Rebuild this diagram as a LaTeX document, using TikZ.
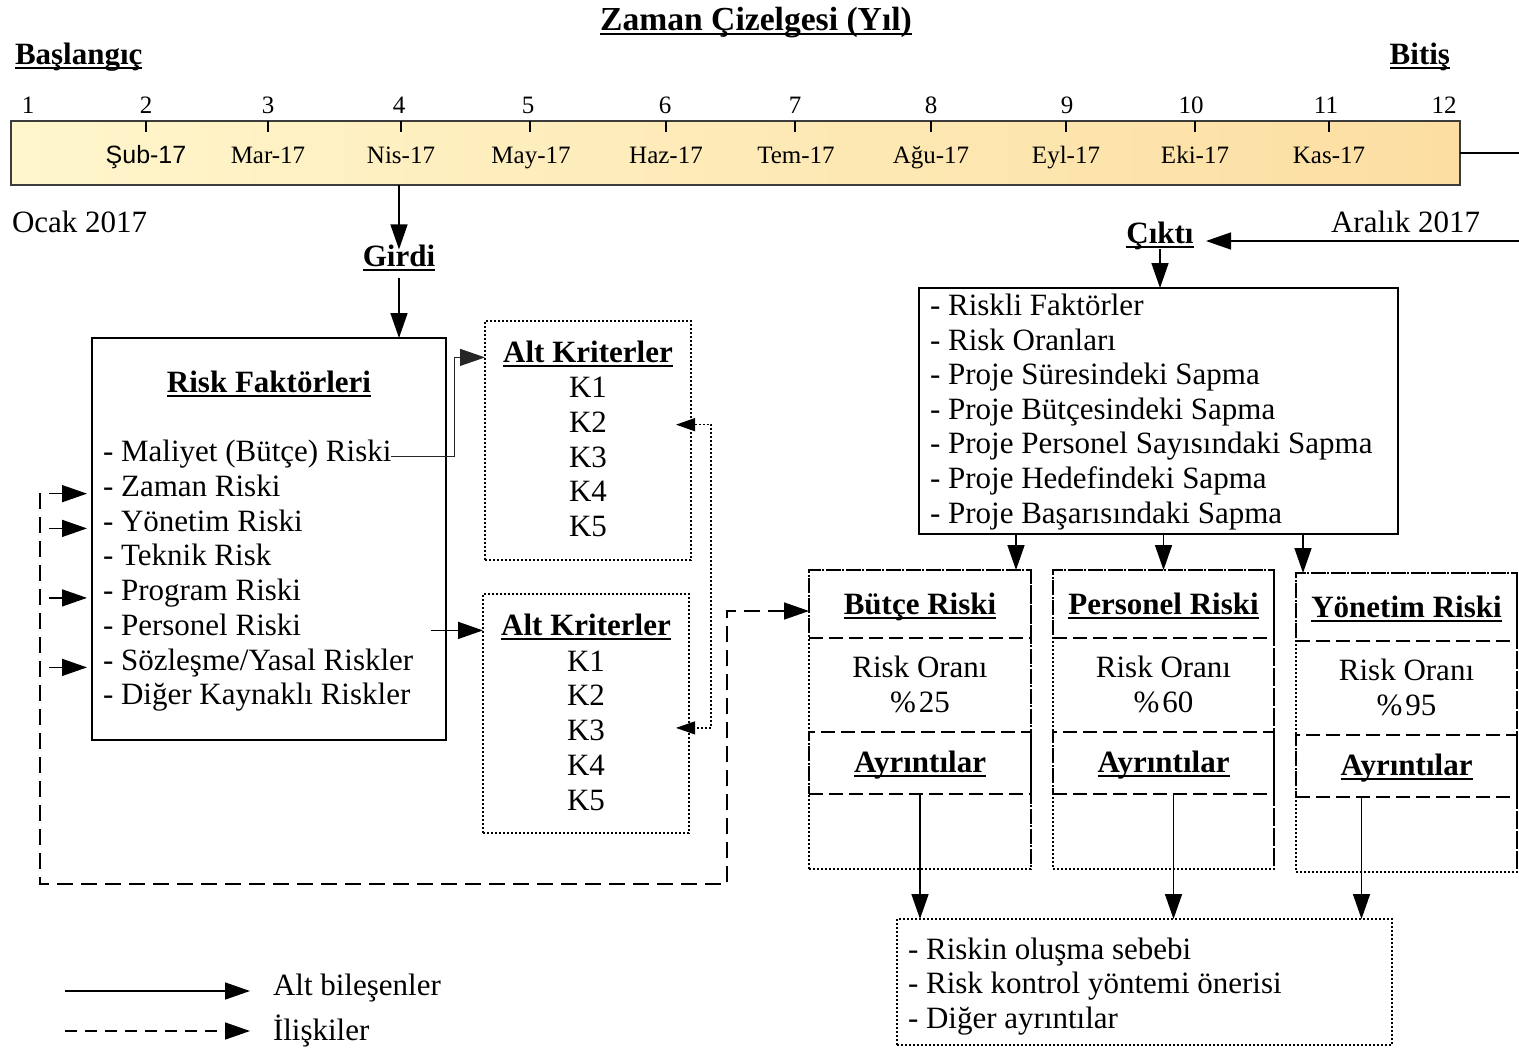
\documentclass[tikz,border=0pt]{standalone}
\usepackage{fontspec}
\setmainfont{Liberation Serif}
\newfontfamily\arialfont{Liberation Sans}
\usetikzlibrary{arrows.meta,fit,calc}

\definecolor{tlA}{RGB}{255,246,204}
\definecolor{tlB}{RGB}{252,222,162}
\definecolor{edge}{RGB}{60,60,60}

% underline at a fixed distance below the baseline
\newcommand\myul[1]{\setbox0\hbox{#1}\rlap{\rule[-2.5pt]{\wd0}{0.9pt}}\box0}

\begin{document}
\begin{tikzpicture}[x=0.5pt,y=-0.5pt,
  every node/.style={inner sep=0pt, outer sep=0pt},
  txt/.style={font=\fontsize{15.5}{17}\selectfont, text height=0.68em, text depth=0.22em},
  ttl/.style={font=\fontsize{15.5}{17}\selectfont\bfseries, text height=0.68em, text depth=0.22em},
  small/.style={font=\fontsize{12.5}{14}\selectfont},
  tip/.style={-{Triangle[length=12.5pt,width=8.5pt]}},
  arr/.style={line width=0.75pt, tip},
  thinline/.style={line width=0.5pt, draw=black!85},
  dotarr/.style={line width=0.6pt, dash pattern=on 1pt off 1pt,
     {Triangle[length=9.5pt,width=6.5pt]}-{Triangle[length=9.5pt,width=6.5pt]}},
  box/.style={draw, line width=0.8pt, fit={#1}},
  dotbox/.style={draw, line width=0.8pt, dash pattern=on 1pt off 1pt, fit={#1}},
  dashbox/.style={draw, line width=0.85pt, dash pattern=on 7pt off 3pt, fit={#1}},
  rel/.style={line width=0.75pt, dash pattern=on 8pt off 4pt},
]
\useasboundingbox[fill=white] (0,0) rectangle (1519,1049);

% ---------------- time line ----------------
\node[font=\fontsize{16.8}{19}\selectfont\bfseries, anchor=base] (title) at (756,30) {\myul{Zaman Çizelgesi (Yıl)}};
\node[ttl, anchor=base west] (start) at (15,64) {\myul{Başlangıç}};
\node[ttl, anchor=base east] (finish) at (1450,64) {\myul{Bitiş}};

\shade[left color=tlA, right color=tlB] (11,121) rectangle (1460,185);
\node[draw=edge, line width=0.9pt, fit={(11,121)(1460,185)}] (tl) {};

\foreach \x [count=\i] in {28,146,268,399,528,665,795,931,1067,1191,1326,1444}
  \node[small, anchor=base] (num\i) at (\x,113) {\i};
\foreach \x in {146,268,401,530,666,795,931,1066,1195,1329}
  \draw[line width=0.75pt] (\x,121) -- (\x,132);
\foreach \x/\m [count=\i from 2] in {146/{\arialfont Şub-17},268/Mar-17,401/Nis-17,531/May-17,666/Haz-17,
   796/Tem-17,931/Ağu-17,1066/Eyl-17,1195/Eki-17,1329/Kas-17}
  \node[small, anchor=base] (mon\i) at (\x,163) {\m};

\node[txt, anchor=base west] (jan) at (12,232) {Ocak 2017};
\node[txt, anchor=base east] (dec) at (1480,232) {Aralık 2017};

% ---------------- input side ----------------
\node[ttl, anchor=base] (girdi) at (399,266) {\myul{Girdi}};
\node[box={(92,338)(446,740)}] (rf) {};
\node[ttl, anchor=base] (rft) at (269,392) {\myul{Risk Faktörleri}};
\foreach \t [count=\i] in {Maliyet (Bütçe) Riski,Zaman Riski,Yönetim Riski,Teknik Risk,Program Riski,
   Personel Riski,Sözleşme/Yasal Riskler,Diğer Kaynaklı Riskler}
  \node[txt, anchor=base west] (rf\i) at (103,{461.5+(\i-1)*34.75}) {- \t};

\node[dotbox={(485,321)(691,560)}] (alt1) {};
\node[ttl, anchor=base] (alt1t) at (588,362) {\myul{Alt Kriterler}};
\foreach \i in {1,...,5}
  \node[txt, anchor=base] (k1\i) at (588,{397.5+(\i-1)*34.75}) {K\i};

\node[dotbox={(483,594)(689,833)}] (alt2) {};
\node[ttl, anchor=base] (alt2t) at (586,635) {\myul{Alt Kriterler}};
\foreach \i in {1,...,5}
  \node[txt, anchor=base] (k2\i) at (586,{671+(\i-1)*34.75}) {K\i};

% ---------------- output side ----------------
\node[ttl, anchor=base] (cikti) at (1160,243) {\myul{Çıktı}};
\coordinate (cikti-e) at (1206,241);
\coordinate (tlr) at (1523,153);
\node[box={(919,288)(1398,534)}] (out) {};
\foreach \t [count=\i] in {Riskli Faktörler,Risk Oranları,Proje Süresindeki Sapma,Proje Bütçesindeki Sapma,
   Proje Personel Sayısındaki Sapma,Proje Hedefindeki Sapma,Proje Başarısındaki Sapma}
  \node[txt, anchor=base west] (out\i) at (930,{315.5+(\i-1)*34.6}) {- \t};

% risk cards: dotted outline, dashed header and details cells
\foreach \n/\xa/\xb/\dy/\name/\val in {bc/809/1031/0/Bütçe Riski/25, pc/1053/1274/0/Personel Riski/60,
   yc/1296/1517/3/Yönetim Riski/95}{
  \node[dotbox={(\xa,570+\dy)(\xb,869+\dy)}] (\n) {};
  \node[dashbox={(\xa,570+\dy)(\xb,638+\dy)}] (\n h) {};
  \node[dashbox={(\xa,732+\dy)(\xb,794+\dy)}] (\n a) {};
  \draw[line width=0.85pt, dash pattern=on 7pt off 3pt] (\n.north east) -- (\n.south east);
  \node[ttl, anchor=base] (\n t) at ({(\xa+\xb)/2},614+\dy) {\myul{\name}};
  \node[txt, anchor=base] (\n r) at ({(\xa+\xb)/2},677+\dy) {Risk Oranı};
  \node[txt, anchor=base] (\n v) at ({(\xa+\xb)/2},712+\dy) {\%\kern1.5pt\val};
  \node[ttl, anchor=base] (\n d) at ({(\xa+\xb)/2},772+\dy) {\myul{Ayrıntılar}};
}

\node[dotbox={(897,919)(1392,1045)}] (det) {};
\foreach \t [count=\i] in {Riskin oluşma sebebi,Risk kontrol yöntemi önerisi,Diğer ayrıntılar}
  \node[txt, anchor=base west] (det\i) at (908,{959+(\i-1)*34.6}) {- \t};

% ---------------- connectors ----------------
\draw[arr] (tl.south -| girdi) -- ([yshift=1.5pt]girdi.north);
\draw[arr] ([yshift=-4pt]girdi.south) -- (girdi.south |- rf.north);
\draw[arr] (tl.east) -- (tlr) |- (cikti-e);
\draw[arr] ([yshift=-1pt]cikti.south) -- (cikti.south |- out.north);

\draw[thinline, tip] (rf1.east) -- ++(63,0) |- (alt1.west |- alt1t);
\draw[arr] ([xshift=-7.5pt]rf.east |- alt2t) -- (alt2.west |- alt2t);
\draw[dotarr] ([xshift=-7.5pt,yshift=1.5pt]alt1.east |- k12) -- ([xshift=10pt,yshift=1.5pt]alt1.east |- k12)
   |- ([xshift=-6.5pt,yshift=4pt]alt2.east |- k23);

\coordinate (loopTop) at (40,493);
\coordinate (loopCorner) at (727,884);
\draw[rel, tip] (loopTop) |- (loopCorner) |- ([yshift=-3.5pt]bch.west);
\foreach \k in {2,3,5,7}
  \draw[rel, tip] ([xshift=-27pt,yshift=-1pt]rf\k.west) -- ([xshift=-8pt,yshift=-1pt]rf\k.west);

\coordinate (a1) at ($(bc.north east)+(-15,0)$);
\coordinate (a3) at ($(yc.north west)+(7,0)$);
\draw[arr] (a1 |- out.south) -- (a1);
\draw[arr] (pc.north |- out.south) -- (pc.north);
\draw[arr] (a3 |- out.south) -- (a3);

\coordinate (b2) at ($(pca.south)+(10,0)$);
\coordinate (b3) at ($(yca.south)+(-45,0)$);
\draw[arr] (bca.south) -- (bca.south |- det.north);
\draw[arr] (b2) -- (b2 |- det.north);
\draw[arr] (b3) -- (b3 |- det.north);

% ---------------- legend ----------------
\node[txt, anchor=base west] (lg1) at (273,995) {Alt bileşenler};
\node[txt, anchor=base west] (lg2) at (273,1040) {İlişkiler};
\coordinate (lgs1) at (65,991);
\coordinate (lgs2) at (65,1031);
\draw[arr, shorten >=11.5pt] (lgs1) -- (lgs1 -| lg1.west);
\draw[rel, dash pattern=on 6pt off 4pt, tip, shorten >=11.5pt] (lgs2) -- (lgs2 -| lg2.west);
\end{tikzpicture}
\end{document}
